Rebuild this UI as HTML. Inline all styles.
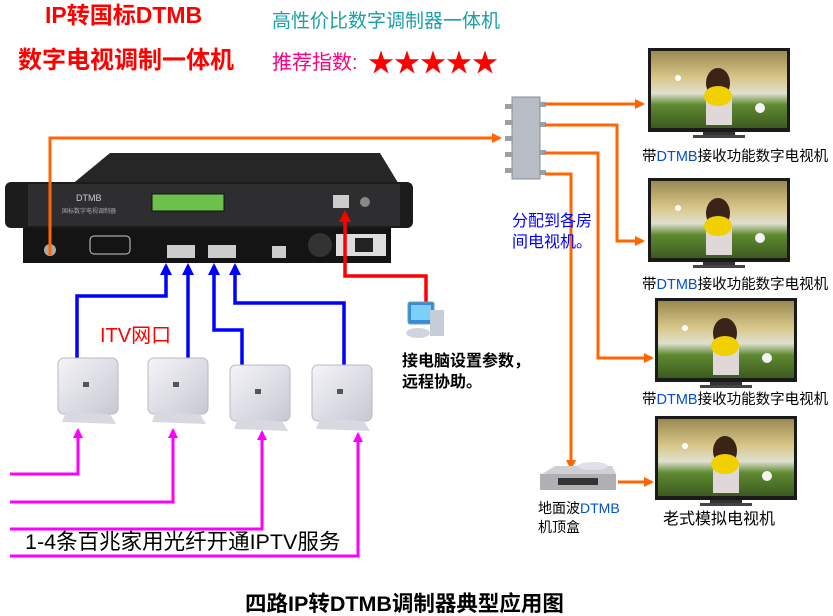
<!DOCTYPE html>
<html><head><meta charset="utf-8"><style>
html,body{margin:0;padding:0;background:#fff;}
svg{display:block;}
text{font-family:"Liberation Sans","Noto Sans CJK SC",sans-serif;}
</style></head><body>
<svg width="833" height="616" viewBox="0 0 833 616" xmlns="http://www.w3.org/2000/svg">
<defs>
<marker id="ao" markerWidth="10" markerHeight="10" refX="8" refY="5" orient="auto" markerUnits="userSpaceOnUse"><path d="M0,0 L10,5 L0,10 Z" fill="#ff6600"/></marker>
<marker id="ab" markerWidth="12" markerHeight="12" refX="9" refY="6" orient="auto" markerUnits="userSpaceOnUse"><path d="M0,0 L12,6 L0,12 Z" fill="#0000ff"/></marker>
<marker id="ar" markerWidth="12" markerHeight="12" refX="9" refY="6" orient="auto" markerUnits="userSpaceOnUse"><path d="M0,0 L12,6 L0,12 Z" fill="#ff0000"/></marker>
<marker id="ap" markerWidth="10" markerHeight="10" refX="8" refY="5" orient="auto" markerUnits="userSpaceOnUse"><path d="M0,0 L10,5 L0,10 Z" fill="#ff00ff"/></marker>
<linearGradient id="scr" x1="0" y1="0" x2="0" y2="1">
<stop offset="0" stop-color="#9a8a50"/><stop offset="0.35" stop-color="#d9c78a"/><stop offset="0.55" stop-color="#e0e0d0"/><stop offset="0.7" stop-color="#5e8a30"/><stop offset="1" stop-color="#3e5a20"/></linearGradient>
<linearGradient id="mdm" x1="0" y1="0" x2="1" y2="1"><stop offset="0" stop-color="#f4f4f8"/><stop offset="1" stop-color="#c8c8d4"/></linearGradient>
<g id="tv">
<rect x="0" y="0" width="142" height="84" fill="#1a1a1a"/>
<rect x="3" y="3" width="136" height="77" fill="url(#scr)"/>
<ellipse cx="70" cy="35" rx="12" ry="15" fill="#3a2418"/>
<rect x="58" y="45" width="26" height="32" fill="#e0d8d8"/>
<ellipse cx="70" cy="48" rx="14" ry="10" fill="#f0d000"/>
<circle cx="112" cy="60" r="5" fill="#f4f4f4"/><circle cx="30" cy="30" r="3" fill="#fff"/>
<rect x="55" y="84" width="32" height="3" fill="#333"/><rect x="45" y="87" width="52" height="3" fill="#444"/>
</g>
<g id="modem">
<rect x="0" y="0" width="60" height="56" rx="6" fill="url(#mdm)" stroke="#b8b8c4"/>
<path d="M8,54 L52,56 L58,66 L4,64 Z" fill="#d8d8e0"/>
<rect x="25" y="24" width="6" height="5" fill="#555"/>
</g>
</defs>

<text x="45" y="23" font-size="23" font-weight="bold" fill="#ff0000">IP转国标DTMB</text>
<text x="18" y="68" font-size="24" font-weight="bold" fill="#ff0000">数字电视调制一体机</text>
<text x="272" y="27" font-size="19" fill="#1aa0a8">高性价比数字调制器一体机</text>
<text x="272" y="69" font-size="20" fill="#ff0080">推荐指数:</text>
<text x="368" y="72" font-size="26" fill="#ff0000">★★★★★</text>

<path d="M70,186 L110,153 L380,153 L400,186 Z" fill="#262626"/>
<rect x="5" y="182" width="408" height="46" rx="6" fill="#1c1c1c"/>
<rect x="28" y="184" width="372" height="42" fill="#2e2e30"/>
<text x="76" y="201" font-size="9" fill="#ccc">DTMB</text>
<text x="62" y="213" font-size="6" fill="#aaa">国标数字电视调制器</text>
<rect x="152" y="194" width="72" height="17" fill="#6ac24a" stroke="#111"/>
<rect x="333" y="195" width="16" height="13" fill="#ccc"/>
<circle cx="365" cy="202" r="5" fill="#888"/>
<rect x="23" y="228" width="368" height="35" fill="#141414"/>
<rect x="90" y="236" width="40" height="18" rx="4" fill="none" stroke="#ccc"/>
<rect x="167" y="245" width="28" height="13" fill="#ccc"/><rect x="208" y="245" width="28" height="13" fill="#ccc"/>
<rect x="272" y="246" width="14" height="12" fill="#ccc"/>
<circle cx="320" cy="245" r="12" fill="#333"/>
<rect x="336" y="234" width="50" height="22" fill="#ddd"/><rect x="355" y="238" width="18" height="14" fill="#222"/>
<circle cx="50" cy="250" r="6" fill="#aaa"/>

<polyline points="50,255 50,138 500,138" fill="none" stroke="#ff6600" stroke-width="3" marker-end="url(#ao)"/>
<rect x="512" y="97" width="28" height="82" fill="#b8bcc4" stroke="#8a8e96"/>
<g fill="#9aa0a8"><rect x="505" y="104" width="8" height="5"/><rect x="505" y="120" width="8" height="5"/><rect x="505" y="136" width="8" height="5"/><rect x="505" y="152" width="8" height="5"/><rect x="505" y="168" width="8" height="5"/>
<rect x="539" y="102" width="7" height="5"/><rect x="539" y="122" width="7" height="5"/><rect x="539" y="150" width="7" height="5"/><rect x="539" y="170" width="7" height="5"/></g>
<polyline points="545,104 643,104" fill="none" stroke="#ff6600" stroke-width="3" marker-end="url(#ao)"/>
<polyline points="545,125 617,125 617,241 643,241" fill="none" stroke="#ff6600" stroke-width="3" marker-end="url(#ao)"/>
<polyline points="545,153 598,153 598,358 652,358" fill="none" stroke="#ff6600" stroke-width="3" marker-end="url(#ao)"/>
<polyline points="545,174 571,174 571,468" fill="none" stroke="#ff6600" stroke-width="3" marker-end="url(#ao)"/>
<polyline points="618,482 652,482" fill="none" stroke="#ff6600" stroke-width="3" marker-end="url(#ao)"/>

<text x="512" y="226" font-size="16" fill="#0000ff">分配到各房</text>
<text x="512" y="247" font-size="16" fill="#0000ff">间电视机。</text>

<use href="#tv" x="648" y="48"/>
<text x="642" y="161" font-size="14.5" fill="#000">带<tspan fill="#0050d0">DTMB</tspan>接收功能数字电视机</text>
<use href="#tv" x="648" y="178"/>
<text x="642" y="289" font-size="14.5" fill="#000">带<tspan fill="#0050d0">DTMB</tspan>接收功能数字电视机</text>
<use href="#tv" x="655" y="298"/>
<text x="642" y="404" font-size="14.5" fill="#000">带<tspan fill="#0050d0">DTMB</tspan>接收功能数字电视机</text>
<use href="#tv" x="655" y="416"/>
<text x="663" y="524" font-size="16" fill="#000">老式模拟电视机</text>

<path d="M542,474 L555,466 L612,466 L616,474 Z" fill="#d0d0d4"/>
<rect x="540" y="474" width="76" height="16" fill="#b0b0b4"/>
<rect x="558" y="478" width="40" height="7" fill="#333"/>
<ellipse cx="593" cy="466" rx="15" ry="4" fill="#e0e0ea"/>
<text x="538" y="513" font-size="14" fill="#000">地面波<tspan fill="#0050d0">DTMB</tspan></text>
<text x="538" y="532" font-size="14" fill="#000">机顶盒</text>

<polyline points="426,303 426,276 345,276 345,213" fill="none" stroke="#ff0000" stroke-width="3.5" marker-end="url(#ar)"/>
<rect x="408" y="302" width="26" height="22" rx="2" fill="#3a8ad8" stroke="#6aa"/>
<rect x="411" y="305" width="20" height="15" fill="#7ad0f8"/>
<rect x="430" y="310" width="14" height="26" fill="#c8ccd8"/>
<ellipse cx="418" cy="333" rx="12" ry="5" fill="#d0d4e0"/>
<text x="402" y="366" font-size="16" font-weight="bold" fill="#000">接电脑设置参数，</text>
<text x="402" y="387" font-size="16" font-weight="bold" fill="#000">远程协助。</text>

<g fill="none" stroke="#0000ff" stroke-width="3.5">
<polyline points="77,364 77,296 166,296 166,266" marker-end="url(#ab)"/>
<polyline points="188,365 188,266" marker-end="url(#ab)"/>
<polyline points="242,366 242,330 214,330 214,266" marker-end="url(#ab)"/>
<polyline points="344,372 344,303 235,303 235,266" marker-end="url(#ab)"/>
</g>
<text x="100" y="342" font-size="20" fill="#ff0000">ITV网口</text>

<use href="#modem" x="58" y="358"/>
<use href="#modem" x="148" y="358"/>
<use href="#modem" x="230" y="365"/>
<use href="#modem" x="312" y="365"/>

<g fill="none" stroke="#ff00ff" stroke-width="3">
<polyline points="10,474 78,474 78,430" marker-end="url(#ap)"/>
<polyline points="10,502 173,502 173,430" marker-end="url(#ap)"/>
<polyline points="10,529 262,529 262,432" marker-end="url(#ap)"/>
<polyline points="10,556 358,556 358,434" marker-end="url(#ap)"/>
</g>
<text x="25" y="549" font-size="21.5" fill="#000">1-4条百兆家用光纤开通IPTV服务</text>

<text x="245" y="611" font-size="21.5" font-weight="bold" fill="#000">四路IP转DTMB调制器典型应用图</text>
</svg>
</body></html>
